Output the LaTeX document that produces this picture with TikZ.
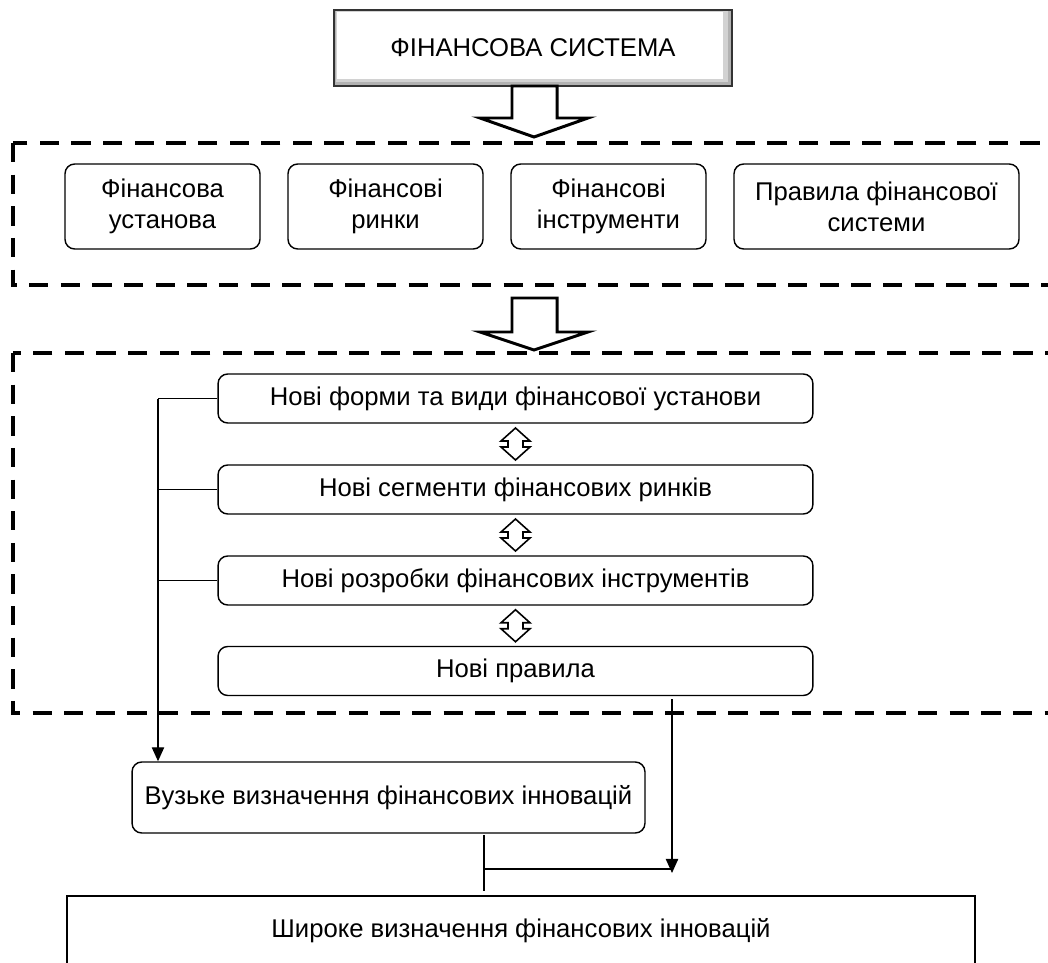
\documentclass[tikz,border=0pt]{standalone}
\usepackage{fontspec}
\setmainfont{Liberation Sans}
\usetikzlibrary{arrows.meta,calc}

\begin{document}
\begin{tikzpicture}[x=0.02cm, y=-0.02cm,
    box/.style={draw, line width=0.8pt, rounded corners=5.5pt, align=center,
        inner sep=0pt, font=\fontsize{14.6pt}{17.5pt}\selectfont},
    sysbox/.style={draw=black!80, line width=0.9pt, fill=gray!60, inner sep=0pt,
        font=\fontsize{14.6pt}{17.5pt}\selectfont,
        path picture={
            \fill[gray!35] ([xshift=1pt,yshift=-0.5pt]path picture bounding box.north west)
                rectangle ([xshift=-2.5pt,yshift=2pt]path picture bounding box.south east);
            \fill[white] ([xshift=1.5pt,yshift=-1pt]path picture bounding box.north west)
                rectangle ([xshift=-5pt,yshift=4pt]path picture bounding box.south east);}},
    frame/.style={line width=2.2pt, dash pattern=on 11pt off 7pt},
    block/.style={line width=1.7pt, fill=white, line join=miter},
    twin/.style={line width=0.9pt, fill=white},
    link/.style={line width=0.8pt},
    tip/.style={-{Triangle[length=8pt,width=7pt]}}]
    \useasboundingbox (0,0) rectangle (1048,963);
    \clip (0,0) rectangle (1048,963);

    % верхній блок
    \node[sysbox, minimum width=7.96cm, minimum height=1.52cm] (sys) at (533,48) {ФІНАНСОВА СИСТЕМА};
    \draw[block] (512,86) -- (512,118) -- (480,118) -- (534,137) -- (588,118) -- (557,118) -- (557,86) -- cycle;

    % складові фінансової системи
    \draw[frame] (13,143) rectangle (1080,285);
    \node[box, minimum width=3.9cm, minimum height=1.7cm] (f1) at (162.5,206.5) {Фінансова\\установа};
    \node[box, minimum width=3.9cm, minimum height=1.7cm] (f2) at (385.5,206.5) {Фінансові\\ринки};
    \node[box, minimum width=3.9cm, minimum height=1.7cm] (f3) at (608.5,206.5) {Фінансові\\інструменти};
    \node[box, minimum width=5.7cm, minimum height=1.7cm] (f4) at (876.5,206.5) {Правила фінансової\\системи};

    \draw[block] (512,298) -- (512,332) -- (480,332) -- (534,350) -- (588,332) -- (557,332) -- (557,298) -- cycle;

    % нові елементи
    \draw[frame] (13,353) rectangle (1080,713);
    \node[box, minimum width=11.9cm, minimum height=0.98cm] (n1) at (515.5,398.5) {Нові форми та види фінансової установи};
    \node[box, minimum width=11.9cm, minimum height=0.98cm] (n2) at (515.5,489.5) {Нові сегменти фінансових ринків};
    \node[box, minimum width=11.9cm, minimum height=0.98cm] (n3) at (515.5,580.5) {Нові розробки фінансових інструментів};
    \node[box, minimum width=11.9cm, minimum height=0.98cm] (n4) at (515.5,671) {Нові правила};

    \foreach \a/\b in {n1/n2,n2/n3,n3/n4}
        \draw[twin] ($(\a.south)!0.5!(\b.north)$) ++(0,-16) -- ++(14.5,13) -- ++(-7,0) -- ++(0,6) -- ++(7,0)
            -- ++(-14.5,13) -- ++(-14.5,-13) -- ++(7,0) -- ++(0,-6) -- ++(-7,0) -- cycle;

    % визначення
    \node[box, minimum width=10.26cm, minimum height=1.42cm] (vz) at (388.5,797.5) {Вузьке визначення фінансових інновацій};
    \node[box, rounded corners=0pt, minimum width=18.16cm, minimum height=1.4cm] (sh) at (521,931) {Широке визначення фінансових інновацій};

    % зв'язки
    \coordinate (bus) at (158,0);
    \foreach \n in {n1,n2,n3}
        \draw[link] (\n.west) -- (\n.west -| bus);
    \draw[link,tip] (n1.west -| bus) -- (bus |- vz.north);

    \coordinate (r1) at (672,699);
    \coordinate (r2) at (672,873);
    \coordinate (j1) at (484,835);
    \coordinate (j2) at (484,891);
    \coordinate (j) at (484,869);
    \draw[link,tip] (r1) -- (r2);
    \draw[link] (j1) -- (j2);
    \draw[link] (j) -- (j -| r2);
\end{tikzpicture}
\end{document}
